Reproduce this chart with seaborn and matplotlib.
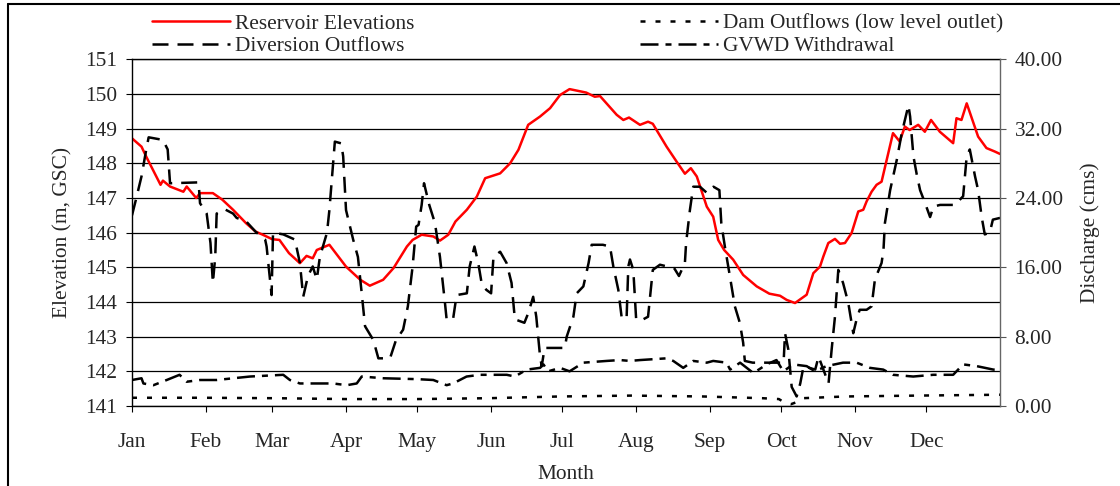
import numpy as np
import pandas as pd
import matplotlib
matplotlib.use("Agg")
import matplotlib.pyplot as plt
import seaborn as sns
from matplotlib.lines import Line2D
from matplotlib.ticker import FormatStrFormatter

# 水位 (m, GSC) - 日序
elev_day = [0, 4, 6, 12, 13, 16, 21.6, 23, 27, 28.6, 34, 38, 42.5, 48, 52, 55, 59, 62, 66,
            70.6, 73.4, 76, 77.7, 83, 90, 96, 100, 105.6, 110, 115.6, 118, 121.8, 126.7,
            129.5, 133, 136, 140.8, 145, 148.5, 154.8, 159, 162.5, 166.6, 171.6, 175.8,
            180, 184, 191, 194.6, 196.8, 203.8, 206.6, 209, 213.6, 217, 219, 224.8, 229,
            232.5, 235, 237.5, 241.7, 244.4, 246.5, 249, 252.8, 257, 262.7, 268, 272.5,
            275.3, 278.8, 283.7, 286.5, 289.3, 290.7, 292.8, 295.6, 297.7, 299.8, 302.6,
            305.4, 307.5, 308.9, 311, 313.1, 315.2, 320, 322.8, 325, 327, 330.6, 333.4,
            336, 339.7, 345.3, 346.7, 348.8, 351, 355.8, 359.3, 362.8, 365]
elev_val = [148.72, 148.48, 148.19, 147.38, 147.5, 147.33, 147.18, 147.33, 147.0, 147.14,
            147.14, 146.95, 146.66, 146.27, 146.03, 145.94, 145.81, 145.79, 145.41, 145.12,
            145.33, 145.26, 145.5, 145.65, 145.02, 144.64, 144.47, 144.64, 144.98, 145.6,
            145.79, 145.94, 145.89, 145.77, 145.94, 146.32, 146.66, 147.04, 147.57, 147.71,
            148.0, 148.39, 149.11, 149.35, 149.59, 149.97, 150.14, 150.04, 149.92, 149.94,
            149.4, 149.25, 149.32, 149.11, 149.2, 149.14, 148.48, 148.05, 147.7, 147.86,
            147.62, 146.75, 146.46, 145.79, 145.5, 145.22, 144.78, 144.45, 144.24, 144.18,
            144.06, 143.97, 144.21, 144.83, 145.02, 145.31, 145.7, 145.82, 145.68, 145.7,
            145.99, 146.61, 146.66, 146.9, 147.18, 147.38, 147.47, 148.87, 148.63, 149.06,
            148.96, 149.11, 148.91, 149.25, 148.91, 148.58, 149.3, 149.25, 149.73, 148.77,
            148.44, 148.34, 148.27]

# 分流流量 (cms)
div_day = [0, 2, 4, 6, 7, 13, 15, 16, 28, 28.6, 31.4, 33, 34, 35, 35.6, 39, 42.5, 44, 48,
           52, 56, 56.6, 58.7, 59.3, 63.6, 68.5, 70.6, 72, 74, 76, 77.7, 79, 82, 83, 84.6,
           85.3, 88, 88.8, 90, 93, 95, 96.6, 98, 101.5, 103.6, 108.5, 111, 114, 116, 118,
           119.5, 120.5, 121.8, 122.8, 125, 127.4, 129.5, 131.6, 132.3, 135, 136.5, 140.8,
           142, 144, 145.6, 147, 149, 151, 152, 154.8, 157.5, 159.6, 161, 165, 166.6,
           168.7, 170, 171.6, 172.3, 173.5, 182, 182.8, 185.6, 187, 189.8, 192, 193.3, 198,
           201, 202.4, 204.5, 206, 208, 208.7, 209.4, 210.8, 212, 214.3, 217, 219, 222,
           228, 230, 232.5, 233, 234.6, 236, 238.8, 241.7, 244.5, 247, 247.8, 249.3, 251.4,
           253.5, 255.6, 257, 257.7, 261, 271, 274, 274.6, 276, 277.4, 279.5, 281, 282.4,
           287.3, 288.7, 292.9, 294.2, 295.6, 297, 299, 301.2, 303.3, 304.7, 306, 308.9,
           311, 312.4, 315.2, 316, 316.6, 318.8, 321.6, 323.7, 326.5, 327.2, 328.6, 330,
           331.4, 333.5, 335.6, 337, 339.8, 346, 349.5, 351, 352.3, 354.5, 355.8, 357.3,
           358.6, 360.7, 362, 365]
div_val = [22.0, 24.2, 26.5, 29.6, 31.0, 30.7, 29.6, 25.7, 25.8, 23.4, 22.2, 18.8, 14.2,
           17.2, 22.2, 22.7, 22.2, 21.7, 21.3, 20.1, 19.2, 18.4, 12.8, 20.0, 19.8, 19.2,
           16.5, 12.6, 15.0, 16.1, 14.6, 17.2, 20.0, 22.6, 28.0, 30.5, 30.3, 28.8, 22.6,
           19.2, 17.2, 13.0, 9.2, 7.6, 5.5, 5.5, 7.6, 8.8, 11.5, 16.1, 20.7, 20.9, 23.2,
           25.7, 23.2, 21.1, 17.2, 11.9, 10.0, 10.0, 12.8, 13.0, 16.1, 18.4, 16.5, 14.2,
           13.4, 13.0, 17.2, 17.8, 16.5, 14.2, 10.0, 9.6, 10.7, 12.6, 10.3, 5.7, 4.6, 6.7,
           6.7, 8.0, 10.3, 13.0, 13.8, 16.5, 18.6, 18.6, 18.4, 16.1, 13.4, 10.0, 10.3,
           16.1, 16.9, 15.7, 10.0, 9.9, 10.3, 15.7, 16.3, 15.9, 15.0, 16.5, 18.8, 22.6,
           25.3, 25.3, 24.6, 25.3, 24.9, 21.1, 18.4, 15.0, 11.5, 9.6, 7.3, 5.2, 5.0, 5.0,
           5.0, 8.4, 6.5, 2.2, 1.1, 2.6, 4.6, 4.2, 5.7, 2.6, 6.5, 10.3, 15.7, 14.2, 11.9,
           8.4, 10.0, 11.1, 11.1, 11.5, 14.6, 16.5, 18.0, 21.1, 24.9, 28.4, 31.5, 34.7,
           33.4, 28.8, 26.7, 24.9, 23.4, 21.8, 23.0, 23.2, 23.2, 24.2, 28.8, 29.6, 26.5,
           24.9, 21.8, 19.8, 20.0, 21.5, 21.7]

# 大坝泄流 (低位出口)
dam_day = [0, 30, 60, 90, 120, 150, 180, 210, 240, 265, 272, 275, 277, 279, 282, 300, 330, 365]
dam_val = [0.95, 0.95, 0.9, 0.8, 0.8, 0.9, 1.1, 1.2, 1.1, 0.9, 0.8, 0.3, 0.2, 0.4, 0.9,
           1.1, 1.2, 1.3]

# GVWD取水
gvwd_day = [0, 4, 4.8, 9, 14.6, 20, 23, 28.6, 35.6, 49.6, 63.6, 66.4, 70.6, 84.6, 90.3,
            94.5, 96.6, 105.7, 119.7, 126.7, 132.3, 135, 140.7, 146.3, 157.6, 161, 166,
            171.6, 173, 175, 180, 184, 189.8, 199.6, 205.2, 209.4, 213.6, 224.8, 227.6,
            231.8, 236, 241.7, 244.4, 250, 251.5, 255.7, 261.3, 266.9, 271, 273.9, 278,
            283.7, 287.2, 292, 299, 304.7, 310.3, 315.9, 320, 328.5, 336.9, 345.3, 349.5,
            355.2, 362.2, 365]
gvwd_val = [3.0, 3.2, 2.6, 2.4, 3.0, 3.6, 2.8, 3.0, 3.0, 3.4, 3.6, 3.0, 2.6, 2.6, 2.4,
            2.6, 3.4, 3.2, 3.1, 3.0, 2.4, 2.6, 3.4, 3.6, 3.6, 3.4, 4.2, 4.4, 4.8, 4.0, 4.4,
            4.0, 5.0, 5.2, 5.3, 5.2, 5.3, 5.5, 5.2, 4.4, 5.2, 5.0, 5.2, 5.0, 4.2, 5.0, 3.8,
            4.8, 5.3, 4.0, 4.8, 4.6, 4.0, 4.6, 5.0, 5.0, 4.4, 4.2, 3.6, 3.4, 3.6, 3.6, 4.8,
            4.6, 4.2, 4.2]

month_days = [0, 31, 59, 90, 120, 151, 181, 212, 243, 273, 304, 334]
month_names = ['Jan', 'Feb', 'Mar', 'Apr', 'May', 'Jun', 'Jul', 'Aug', 'Sep', 'Oct', 'Nov', 'Dec']

# 基本配置
sns.set_theme(style="white")
plt.rcParams['font.family'] = ['Liberation Serif', 'DejaVu Serif']
fs = 15.4

W, H = 1120, 486
fig = plt.figure(figsize=(W / 100, H / 100), dpi=100)
ax = fig.add_axes([132 / W, 1 - 406 / H, 868 / W, (406 - 59.3) / H])
ax2 = ax.twinx()

lw = 1.8
sns.lineplot(x=elev_day, y=elev_val, ax=ax, color='#ff0000', linewidth=lw,
             estimator=None, sort=False, legend=False)
sns.lineplot(x=div_day, y=div_val, ax=ax2, color='black', linewidth=lw,
             linestyle=(0, (6.4, 3.6)), estimator=None, sort=False, legend=False)
sns.lineplot(x=dam_day, y=dam_val, ax=ax2, color='black', linewidth=lw,
             linestyle=(0, (2.0, 4.0)), estimator=None, sort=False, legend=False)
sns.lineplot(x=gvwd_day, y=gvwd_val, ax=ax2, color='black', linewidth=lw,
             linestyle=(0, (7.2, 2.8, 2.4, 2.8)), estimator=None, sort=False, legend=False)

# 坐标轴
ax.set_xlim(0, 365)
ax.set_ylim(141, 151)
ax.set_yticks(range(141, 152))
ax2.set_ylim(0, 40)
ax2.set_yticks(np.arange(0, 41, 8))
ax2.yaxis.set_major_formatter(FormatStrFormatter('%.2f'))
ax.set_xticks(month_days)
ax.set_xticklabels(month_names)

ax.grid(axis='y', color='black', linewidth=0.9)
ax.grid(axis='x', visible=False)
ax2.grid(False)

ax.tick_params(axis='y', direction='out', length=4.5, width=0.8, color='black',
               pad=6, labelsize=fs, left=True)
ax.tick_params(axis='x', direction='out', length=4.5, width=0.8, color='black',
               pad=15, labelsize=fs, bottom=True)
ax2.tick_params(axis='y', direction='out', length=4.5, width=0.8, color='#555555',
                pad=6, labelsize=fs, right=True)

for s in ['left', 'bottom', 'top']:
    ax.spines[s].set_color('black')
    ax.spines[s].set_linewidth(1.0)
ax.spines['right'].set_visible(False)
for s in ['left', 'bottom', 'top']:
    ax2.spines[s].set_visible(False)
ax2.spines['right'].set_color('#666666')
ax2.spines['right'].set_linewidth(1.0)

ax.set_xlabel('Month', fontsize=fs, labelpad=9)
ax.set_ylabel('Elevation (m, GSC)', fontsize=fs, labelpad=9.5)
ax2.set_ylabel('Discharge (cms)', fontsize=fs, labelpad=12.5, rotation=90)

# 图例
lines = ax.get_lines() + ax2.get_lines()
leg_kw = dict(loc='center left', frameon=False, handlelength=3.65, handletextpad=0.25,
              labelspacing=0.1, borderpad=0, borderaxespad=0, fontsize=fs)
fig.legend(handles=[lines[0], lines[1]], labels=['Reservoir Elevations', 'Diversion Outflows'],
           bbox_to_anchor=(152 / W, 1 - 35 / H), **leg_kw)
fig.legend(handles=[lines[2], lines[3]],
           labels=['Dam Outflows (low level outlet)', 'GVWD Withdrawal'],
           bbox_to_anchor=(640 / W, 1 - 35 / H), **leg_kw)

# 外框
fig.add_artist(Line2D([8 / W, 8 / W], [0, 1 - 4.5 / H], transform=fig.transFigure,
                      color='black', linewidth=1.5))
fig.add_artist(Line2D([8 / W, 1], [1 - 4.5 / H, 1 - 4.5 / H], transform=fig.transFigure,
                      color='black', linewidth=1.5))

fig.savefig('out.png', dpi=100)
